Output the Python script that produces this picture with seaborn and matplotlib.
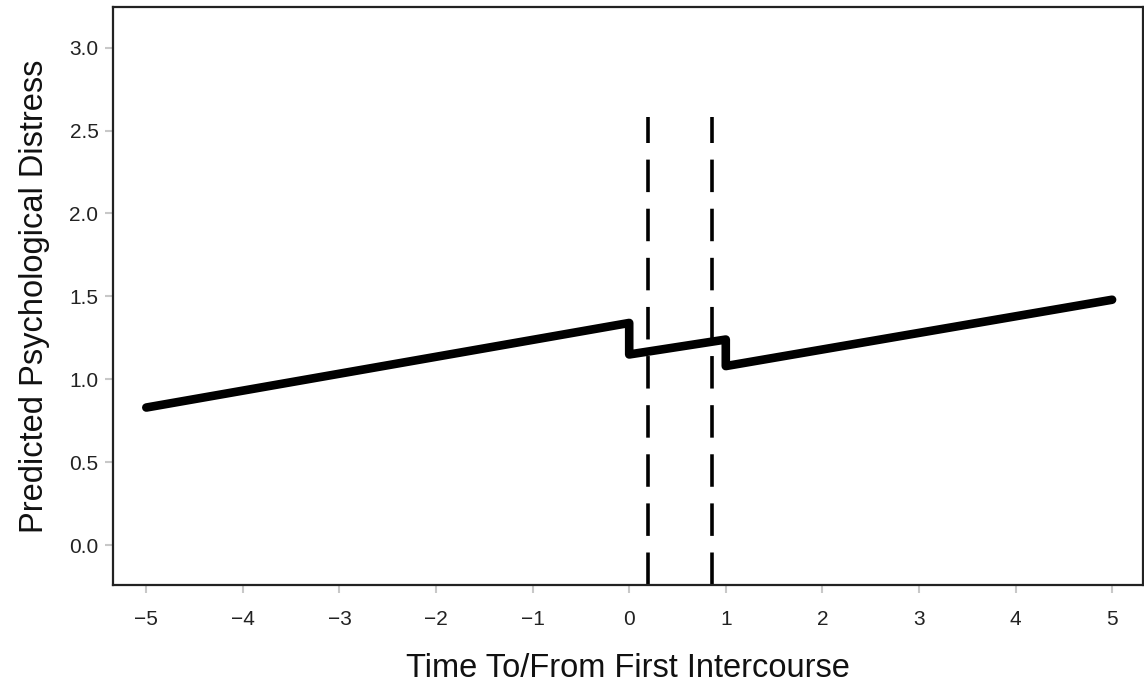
import matplotlib
matplotlib.use("Agg")
import matplotlib.pyplot as plt
import seaborn as sns
import pandas as pd

# Data
time_points = [-5, 0, 0, 1, 1, 5]
distress = [0.83, 1.34, 1.15, 1.24, 1.08, 1.48]
ref_lines_x = [0.19, 0.86]
ref_line_top = 2.58
x_ticks = [-5, -4, -3, -2, -1, 0, 1, 2, 3, 4, 5]
y_ticks = [0.0, 0.5, 1.0, 1.5, 2.0, 2.5, 3.0]

sns.set_theme(style="white")
plt.rcParams['font.family'] = ['Liberation Sans', 'DejaVu Sans']

fig = plt.figure(figsize=(11.44, 6.86), dpi=100)
ax = fig.add_axes([113/1144, 1 - 585/686, (1143 - 113)/1144, (585 - 7)/686])

df = pd.DataFrame({"time": time_points, "distress": distress})
sns.lineplot(data=df, x="time", y="distress", sort=False, estimator=None,
             color="black", linewidth=6.2, ax=ax,
             solid_capstyle="round", solid_joinstyle="round")

ylo, yhi = -0.24, 3.245
ax.vlines(ref_lines_x, ylo, ref_line_top, colors="black", linewidth=2.6,
          linestyles=[(0, (9, 4.6))])

ax.set_xlim(-5.345, 5.32)
ax.set_ylim(ylo, yhi)
ax.set_xticks(x_ticks)
ax.set_xticklabels([str(t).replace("-", "\u2212") for t in x_ticks])
ax.set_yticks(y_ticks)
ax.set_yticklabels([f"{t:.1f}" for t in y_ticks])

ax.tick_params(axis="both", which="both", direction="out", length=6, width=1.5,
               color="#c8c8c8", labelsize=15, labelcolor="#222222",
               bottom=True, left=True)
ax.tick_params(axis="x", pad=12)
ax.tick_params(axis="y", pad=4.5)
for s in ax.spines.values():
    s.set_color("#222222")
    s.set_linewidth(1.6)

ax.set_xlabel("Time To/From First Intercourse", fontsize=23.5, color="#111111", labelpad=17)
ax.set_ylabel("Predicted Psychological Distress", fontsize=23.5, color="#111111", labelpad=14)

fig.savefig("out.png", dpi=100)
